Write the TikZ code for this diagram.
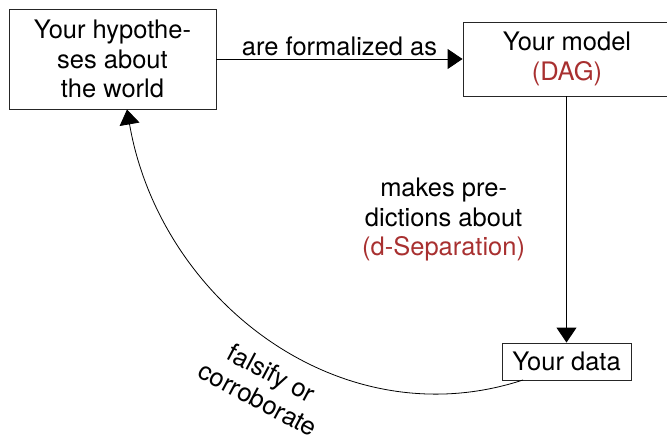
\documentclass[tikz,border=0pt]{standalone}
\usepackage{fontspec}
\setmainfont{TeX Gyre Heros}
\usetikzlibrary{arrows.meta}
\definecolor{accent}{RGB}{168,48,48}
\tikzset{
  box/.style={draw=black!85, line width=0.9pt, inner sep=0pt, align=center},
  lbl/.style={align=center, inner sep=3pt},
  conn/.style={line width=0.9pt, -{Triangle[length=15pt,width=20pt]}},
  thin conn/.style={line width=0.8pt, -{Triangle[length=15pt,width=20pt]}},
}
\begin{document}
\begin{tikzpicture}[x=1pt, y=-1pt,
  every node/.style={font=\fontsize{25.5pt}{29.5pt}\selectfont}]
  \useasboundingbox (0,0) rectangle (667,439);

  % boxes
  \node[box, minimum width=207pt, minimum height=100pt] (hyp) at (112.5,59)
    {Your hypothe-\\ses about\\the world};
  \node[box, minimum width=208pt, minimum height=74pt] (model) at (567,59)
    {Your model\\\textcolor{accent}{(DAG)}};
  \node[box, minimum width=129pt, minimum height=37pt] (data) at (566.5,361.5)
    {Your data};

  % connectors
  \draw[conn] (hyp.east) -- node[lbl, above] (formal) {are formalized as} (model.west);
  \draw[conn] (model.south -| data.north) -- node[lbl, anchor=east, xshift=-38pt] (pred)
    {makes pre-\\dictions about\\\textcolor{accent}{(d-Separation)}} (data.north);
  \coordinate (cstart) at (523,380);
  \coordinate (cend) at (127,109.5);
  \draw[thin conn] (cstart) .. controls (340,440) and (160,300) .. (cend);
  \node[lbl, rotate=-28] (fals) at (265,386) {falsify or\\corroborate};
\end{tikzpicture}
\end{document}
